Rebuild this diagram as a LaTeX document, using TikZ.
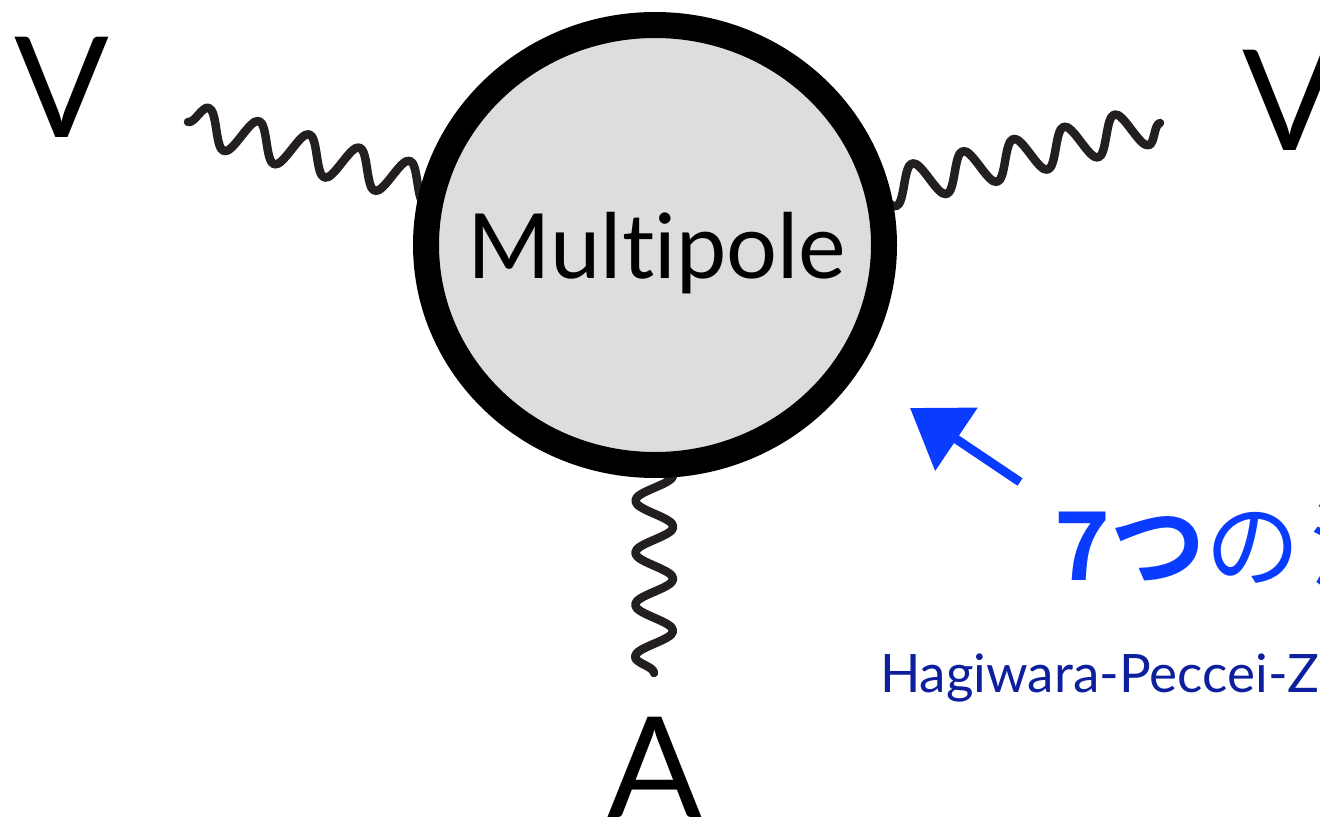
\documentclass[tikz,border=0pt]{standalone}
\usepackage{fontspec}
\setmainfont{Lato}[Ligatures={NoCommon}]
\newfontfamily\jp{Noto Sans CJK JP}[BoldFont={Noto Sans CJK JP Bold}]
\usetikzlibrary{shapes.geometric,decorations.pathmorphing,arrows.meta}
\definecolor{ink}{HTML}{231F20}
\definecolor{disc}{HTML}{DCDDDF}
\definecolor{jblue}{HTML}{0A3CFF}
\definecolor{nblue}{HTML}{0D1F9C}
\tikzset{
  wave/.style={draw=ink,line width=8.5pt,line cap=round,line join=round,decorate,
    decoration={snake,segment length=52pt,amplitude=19pt}},
  bigletter/.style={inner sep=0pt,anchor=base,font=\fontsize{140}{150}\selectfont},
  blob/.style={ellipse,draw=black,fill=disc,line width=26pt,inner sep=0pt,
    minimum width=458pt,minimum height=440pt},
}
\begin{document}
\begin{tikzpicture}[x=1pt,y=-1pt]
\useasboundingbox (0,0) rectangle (1320,817);
\clip (0,0) rectangle (1320,817);
% coordinates
\coordinate (cc) at (655,245);
\coordinate (wl) at (188,122);
\coordinate (wr) at (1160,123);
\coordinate (wb) at (654,673);
% waves (drawn first, hidden by the disc at their inner ends)
\draw[wave] (wl) -- (cc);
\draw[wave] (wr) -- (cc);
\draw[wave] (wb) -- (cc);
% disc
\node[blob] (mp) at (cc) {};
\node[inner sep=0pt,anchor=base,font=\fontsize{90}{100}\selectfont] (mpt) at (657,278) {Multipole};
% letters
\node[bigletter] (vl) at (62,137) {V};
\node[bigletter] (vr) at (1290,150) {V};
\node[bigletter] (a) at (655,817) {A};
% blue arrow
\coordinate (atail) at (1020,482);
\coordinate (atip) at (910,408);
\draw[jblue,line width=9pt,-{Triangle[length=56pt,width=74pt]}] (atail) -- (atip);
% texts
\node[inner sep=0pt,anchor=base west,text=jblue,font=\jp\fontsize{95}{100}\selectfont] (jt) at (1054,580) {{\bfseries 7つ}の\kern10pt 演};
\node[inner sep=0pt,anchor=base west,text=nblue,font=\fontsize{53}{60}\selectfont] (hpz) at (880,692) {Hagiwara-Peccei-Z};
\end{tikzpicture}
\end{document}
